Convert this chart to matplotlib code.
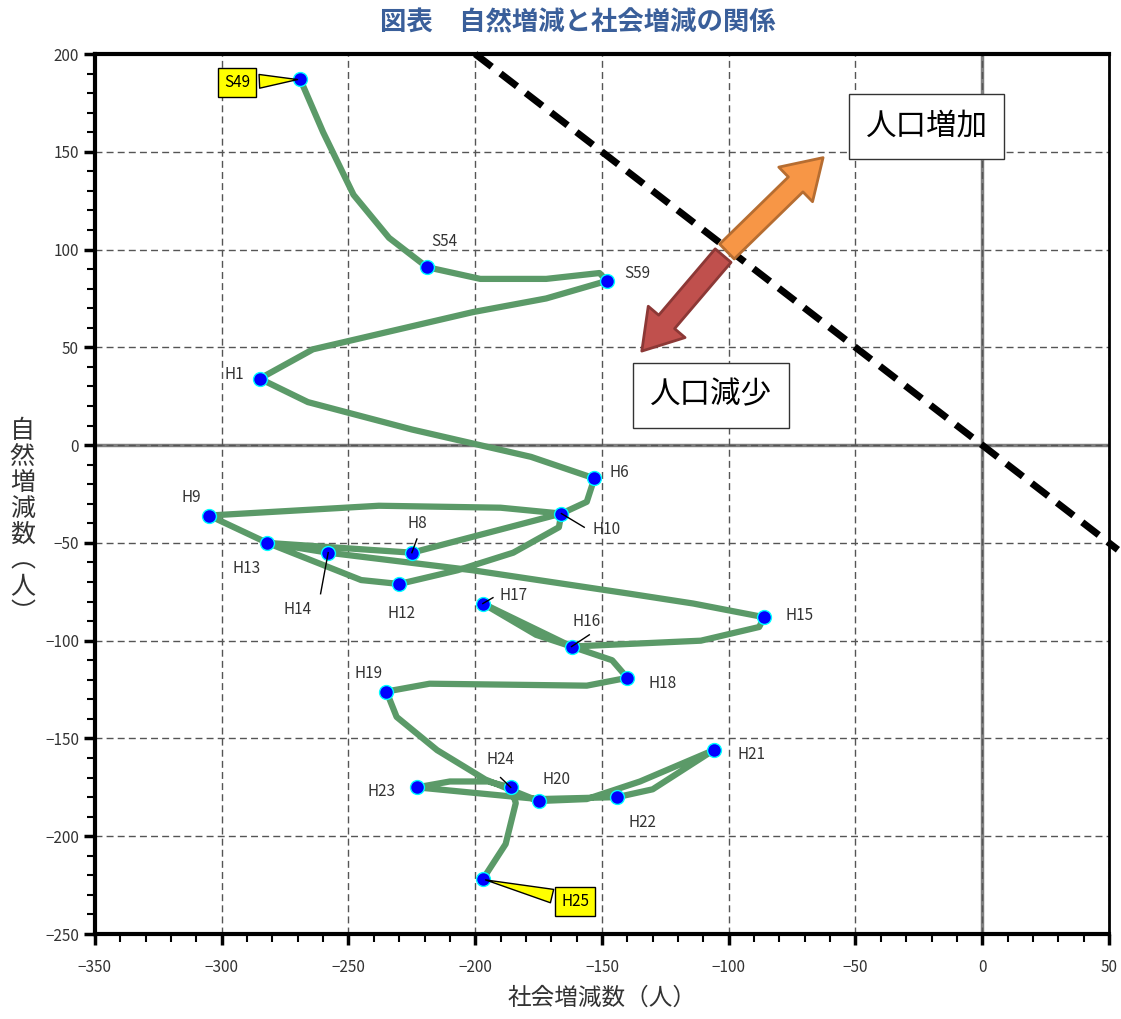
import matplotlib.pyplot as plt
from matplotlib.patches import FancyArrowPatch
from matplotlib.ticker import MultipleLocator

plt.rcParams['font.family'] = ['Noto Sans CJK JP', 'DejaVu Sans']

# path of (social change, natural change) by year, with bends along the way
social = [-269, -260, -248, -234, -226, -219, -198, -172, -151, -148,
          -172, -201, -264, -285,
          -266, -225, -178, -153,
          -156, -166, -225, -282, -305, -238, -190, -166,
          -167, -185, -207, -230, -245, -282, -258, -201, -139, -114, -86,
          -88, -111, -162, -197, -176, -162, -146, -140,
          -156, -218, -235, -231, -215, -196, -175,
          -156, -135, -106, -130, -144, -175, -223,
          -210, -195, -186, -184, -188, -197]
natural = [187, 160, 128, 106, 98, 91, 85, 85, 88, 84,
           75, 68, 49, 34,
           22, 8, -6, -17,
           -29, -35, -55, -50, -36, -31, -32, -35,
           -42, -55, -64, -71, -69, -50, -55, -64, -76, -81, -88,
           -93, -100, -103, -81, -97, -103, -110, -119,
           -123, -122, -126, -139, -156, -171, -182,
           -181, -172, -156, -176, -180, -181, -175,
           -172, -172, -175, -183, -204, -222]

# marked years
mark_names = ['S49', 'S54', 'S59', 'H1', 'H6', 'H8', 'H9', 'H10', 'H12', 'H13',
              'H14', 'H15', 'H16', 'H17', 'H18', 'H19', 'H20', 'H21', 'H22',
              'H23', 'H24', 'H25']
mark_x = [-269, -219, -148, -285, -153, -225, -305, -166, -230, -282,
          -258, -86, -162, -197, -140, -235, -175, -106, -144,
          -223, -186, -197]
mark_y = [187, 91, 84, 34, -17, -55, -36, -35, -71, -50,
          -55, -88, -103, -81, -119, -126, -182, -156, -180,
          -175, -175, -222]

# label positions (data coords)
label_pos = {
    'S54': (-212, 104), 'S59': (-136, 88), 'H1': (-295, 36), 'H6': (-143, -14),
    'H9': (-312, -27), 'H8': (-223, -40), 'H10': (-148, -43), 'H13': (-290, -63),
    'H14': (-270, -84), 'H12': (-229, -86), 'H17': (-185, -77), 'H16': (-156, -90),
    'H15': (-72, -87), 'H18': (-126, -122), 'H19': (-242, -117), 'H21': (-91, -158),
    'H24': (-190, -161), 'H20': (-168, -171), 'H23': (-237, -177), 'H22': (-134, -193),
}
leaders = {
    'H8': (-223, -48), 'H10': (-157, -42), 'H14': (-261, -76),
    'H17': (-193, -78), 'H16': (-155, -97), 'H24': (-190, -170),
}

fig = plt.figure(figsize=(11.21, 10.19), dpi=100)
ax = fig.add_axes([0.0847, 0.0834, 0.9046, 0.8636])

ax.set_xlim(-350, 50)
ax.set_ylim(-250, 200)
ax.xaxis.set_major_locator(MultipleLocator(50))
ax.xaxis.set_minor_locator(MultipleLocator(10))
ax.yaxis.set_major_locator(MultipleLocator(50))
ax.yaxis.set_minor_locator(MultipleLocator(10))
ax.tick_params(which='major', direction='out', length=8, width=2.5, labelsize=11, colors='black', labelcolor='#333333')
ax.tick_params(which='minor', direction='out', length=6, width=1.5)
ax.tick_params(axis='x', which='major', pad=10)
ax.grid(True, which='major', linestyle=(0, (5, 3)), color='#555555', linewidth=1)
for s in ['left', 'bottom', 'top']:
    ax.spines[s].set_linewidth(3)
ax.spines['right'].set_linewidth(2)

ax.axhline(0, color='#808080', linewidth=2.5, zorder=1)
ax.axvline(0, color='#808080', linewidth=2.5, zorder=1)

ax.plot([-200, 53.5], [200, -53.5], color='black', linewidth=5, linestyle=(0, (3, 1.6)), zorder=2, clip_on=False)

ax.plot(social, natural, color='#5B9A68', linewidth=4.5, solid_joinstyle='round', zorder=3)
ax.plot(mark_x, mark_y, 'o', color='#0000FF', markeredgecolor='#00FFFF', markersize=10, markeredgewidth=1, zorder=4)

for name, x, y in zip(mark_names, mark_x, mark_y):
    if name in label_pos:
        tx, ty = label_pos[name]
        ax.text(tx, ty, name, fontsize=11, ha='center', va='center', color='#333333', zorder=5)
        if name in leaders:
            lx, ly = leaders[name]
            ax.plot([lx, x], [ly, y], color='black', linewidth=1, zorder=5)

callout = dict(arrowstyle='wedge,tail_width=0.9,shrink_factor=0.5', fc='#FFFF00', ec='black', lw=1)
ax.annotate('S49', xy=(-269, 187), xytext=(-294, 185.5), fontsize=11, ha='center', va='center',
            bbox=dict(boxstyle='square,pad=0.4', fc='#FFFF00', ec='black', lw=1),
            arrowprops=callout, zorder=6)
ax.annotate('H25', xy=(-197, -222), xytext=(-160.5, -233.5), fontsize=11, ha='center', va='center',
            bbox=dict(boxstyle='square,pad=0.4', fc='#FFFF00', ec='black', lw=1),
            arrowprops=callout, zorder=6)

up = FancyArrowPatch((-101.5, 98), (-62, 148), arrowstyle='simple,head_width=2.9,head_length=2.3,tail_width=1.25',
                     mutation_scale=12, fc='#F79646', ec='#B66D31', lw=2, zorder=6)
down = FancyArrowPatch((-101.5, 98), (-135, 47), arrowstyle='simple,head_width=2.9,head_length=2.3,tail_width=1.25',
                       mutation_scale=12, fc='#C0504D', ec='#8C3836', lw=2, zorder=6)
ax.add_patch(up)
ax.add_patch(down)

ax.text(-22, 163, '人口増加', fontsize=22, ha='center', va='center', zorder=7,
        bbox=dict(boxstyle='square,pad=0.55', fc='white', ec='#333333', lw=1))
ax.text(-107, 25.5, '人口減少', fontsize=22, ha='center', va='center', zorder=7,
        bbox=dict(boxstyle='square,pad=0.55', fc='white', ec='#333333', lw=1))

ax.set_xlabel('社会増減数（人）', fontsize=17, color='#333333', labelpad=8)
fig.text(0.02, 0.488, '\n'.join('自然増減数︵人︶'), fontsize=18, color='#333333', ha='center', va='center', linespacing=1.0)

fig.text(0.515, 0.978, '図表　自然増減と社会増減の関係', fontsize=19, color='#3A5F9A', ha='center', va='center', fontweight='bold')

fig.savefig('out.png', dpi=100)
